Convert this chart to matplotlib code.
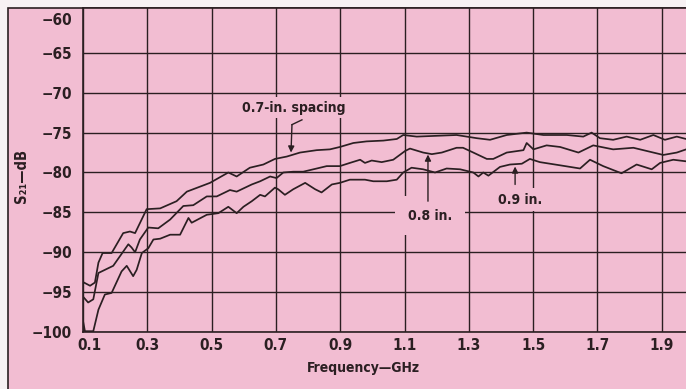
import matplotlib
matplotlib.use('Agg')
import matplotlib.pyplot as plt
import matplotlib.transforms as mtransforms
from matplotlib.patches import Rectangle
from matplotlib import font_manager

# S21 vs frequency for three trace spacings
freq_07 = [0.103, 0.122, 0.137, 0.148, 0.161, 0.189, 0.225, 0.246, 0.262, 0.298,
           0.340, 0.391, 0.423, 0.495, 0.552, 0.578, 0.619, 0.661, 0.697, 0.734,
           0.775, 0.827, 0.868, 0.899, 0.941, 0.982, 1.034, 1.076, 1.096, 1.138,
           1.200, 1.262, 1.325, 1.366, 1.418, 1.480, 1.532, 1.605, 1.656, 1.682,
           1.708, 1.749, 1.791, 1.833, 1.874, 1.910, 1.947, 1.976]
s21_07 = [-93.8, -94.2, -93.8, -91.3, -90.1, -90.1, -87.6, -87.4, -87.6, -84.6,
          -84.5, -83.6, -82.4, -81.3, -80.0, -80.5, -79.4, -79.0, -78.3, -78.0,
          -77.5, -77.2, -77.1, -76.8, -76.3, -76.1, -76.0, -75.8, -75.3, -75.5,
          -75.4, -75.3, -75.7, -75.9, -75.3, -75.0, -75.3, -75.3, -75.5, -75.0,
          -75.7, -75.9, -75.5, -75.9, -75.3, -75.9, -75.5, -75.8]

freq_08 = [0.103, 0.116, 0.132, 0.148, 0.194, 0.241, 0.251, 0.262, 0.277, 0.303,
           0.334, 0.371, 0.412, 0.443, 0.485, 0.516, 0.557, 0.578, 0.625, 0.651,
           0.682, 0.702, 0.723, 0.754, 0.785, 0.827, 0.858, 0.899, 0.930, 0.962,
           0.977, 0.998, 1.029, 1.065, 1.102, 1.117, 1.158, 1.185, 1.216, 1.262,
           1.282, 1.314, 1.356, 1.376, 1.418, 1.470, 1.480, 1.501, 1.542, 1.584,
           1.641, 1.687, 1.749, 1.812, 1.874, 1.905, 1.947, 1.976]
s21_08 = [-95.7, -96.3, -95.9, -92.6, -91.7, -89.0, -89.4, -90.0, -88.4, -86.9,
          -87.0, -85.9, -84.2, -84.1, -83.0, -83.0, -82.2, -82.4, -81.5, -81.1,
          -80.5, -80.7, -80.0, -79.9, -79.9, -79.5, -79.2, -79.2, -78.8, -78.4,
          -78.8, -78.5, -78.7, -78.4, -77.3, -77.0, -77.5, -77.7, -77.5, -76.9,
          -76.9, -77.5, -78.3, -78.3, -77.5, -77.2, -76.3, -77.1, -76.6, -76.8,
          -77.5, -76.6, -77.1, -76.9, -77.5, -77.8, -77.5, -77.1]

freq_09 = [0.100, 0.106, 0.132, 0.148, 0.168, 0.189, 0.220, 0.236, 0.256, 0.267,
           0.283, 0.303, 0.319, 0.340, 0.371, 0.402, 0.428, 0.438, 0.485, 0.521,
           0.552, 0.578, 0.599, 0.625, 0.651, 0.666, 0.697, 0.707, 0.728, 0.754,
           0.791, 0.822, 0.842, 0.874, 0.899, 0.930, 0.977, 1.003, 1.045, 1.076,
           1.096, 1.122, 1.158, 1.195, 1.231, 1.273, 1.314, 1.330, 1.345, 1.361,
           1.397, 1.428, 1.465, 1.490, 1.521, 1.584, 1.646, 1.677, 1.718, 1.775,
           1.822, 1.869, 1.895, 1.936, 1.976]
s21_09 = [-98.6, -99.9, -99.9, -97.2, -95.3, -95.1, -92.4, -91.7, -93.0, -92.2,
          -90.1, -89.5, -88.4, -88.3, -87.8, -87.8, -85.7, -86.3, -85.3, -85.1,
          -84.3, -85.1, -84.3, -83.6, -82.8, -83.0, -81.9, -82.1, -82.8, -82.1,
          -81.3, -82.1, -82.5, -81.5, -81.3, -80.9, -80.9, -81.1, -81.1, -80.9,
          -80.0, -79.4, -79.6, -80.0, -79.5, -79.6, -80.0, -80.5, -80.0, -80.4,
          -79.3, -79.0, -78.9, -78.3, -78.7, -79.1, -79.5, -78.4, -79.2, -80.1,
          -79.0, -79.6, -78.8, -78.4, -78.6]

x_ticks = [0.1, 0.3, 0.5, 0.7, 0.9, 1.1, 1.3, 1.5, 1.7, 1.9]
y_ticks = [-100, -95, -90, -85, -80, -75, -70, -65, -60]

pink = '#f2bdd2'
ink = '#2b1f22'

# condensed bold face if one is installed
names = set(f.name for f in font_manager.fontManager.ttflist)
if 'Liberation Sans Narrow' in names:
    fonts = ['Liberation Sans Narrow', 'DejaVu Sans']
    stretch = 'normal'
else:
    fonts = ['DejaVu Sans']
    stretch = 'condensed'

plt.rcParams['font.family'] = fonts
plt.rcParams['font.weight'] = 'bold'
plt.rcParams['font.stretch'] = stretch

fig = plt.figure(figsize=(6.86, 3.89), dpi=100)
fig.patch.set_facecolor('#f7f1f3')
# outer panel frame
fig.patches.append(Rectangle((8 / 686, -0.05), 1.1, 1.05 - 8 / 389,
                             transform=fig.transFigure, facecolor=pink,
                             edgecolor=ink, lw=1.2, zorder=-5))

ax = fig.add_axes([83 / 686, 57 / 389, 603 / 686, 324 / 389])
ax.set_zorder(2)
ax.set_facecolor(pink)
ax.set_xlim(0.1, 0.1 + 603 / 321.5)
ax.set_ylim(-100, -59.375)

ax.set_xticks(x_ticks)
ax.set_xticklabels(['%.1f' % v for v in x_ticks])
ax.set_yticks(y_ticks)
ax.set_yticklabels(['\u2212%d' % abs(v) for v in y_ticks])
ax.tick_params(length=0, labelsize=11, colors=ink)
ax.tick_params(axis='y', pad=8)
ax.tick_params(axis='x', pad=4)
ax.grid(True, color=ink, lw=1.0)
ax.set_axisbelow(True)
ax.get_ygridlines()[-1].set_visible(False)
for side in ['left', 'bottom', 'top']:
    ax.spines[side].set_color(ink)
    ax.spines[side].set_linewidth(1.2)
ax.spines['right'].set_visible(False)

# nudge the edge labels inward like the original
lbl = ax.get_xticklabels()[0]
lbl.set_transform(lbl.get_transform() + mtransforms.ScaledTranslation(6 / 100, 0, fig.dpi_scale_trans))
lbl = ax.get_yticklabels()[-1]
lbl.set_transform(lbl.get_transform() + mtransforms.ScaledTranslation(0, -6 / 100, fig.dpi_scale_trans))

for f, s in [(freq_07, s21_07), (freq_08, s21_08), (freq_09, s21_09)]:
    ax.plot(f, s, color=ink, lw=1.25, zorder=3)

ax.set_xlabel('Frequency\u2014GHz', fontsize=10, color=ink, fontweight='bold')
ax.xaxis.set_label_coords(0.465, -0.09)
ax.set_ylabel('S\u2082\u2081\u2014dB', fontsize=10.5, color=ink, fontweight='bold')
ax.yaxis.set_label_coords(-0.09, 0.48)

arrow = dict(arrowstyle='-|>', color=ink, lw=1.0, mutation_scale=9, shrinkA=0, shrinkB=0)

# 0.7-in. spacing label with bent leader
ax.text(0.595, -71.9, '0.7-in. spacing', fontsize=10, color=ink, va='center', ha='left',
        bbox=dict(boxstyle='square,pad=0.25', fc=pink, ec='none'), zorder=4)
ax.plot([0.781, 0.750], [-73.4, -74.0], color=ink, lw=1.0, zorder=4)
ax.annotate('', xy=(0.747, -77.5), xytext=(0.750, -74.0), arrowprops=arrow, zorder=4)

ax.text(1.179, -85.4, '0.8 in.', fontsize=10, color=ink, va='center', ha='center',
        bbox=dict(boxstyle='square,pad=0.9', fc=pink, ec='none'), zorder=4)
ax.annotate('', xy=(1.173, -77.75), xytext=(1.173, -83.6), arrowprops=arrow, zorder=4)

ax.text(1.459, -83.4, '0.9 in.', fontsize=10, color=ink, va='center', ha='center',
        bbox=dict(boxstyle='square,pad=0.3', fc=pink, ec='none'), zorder=4)
ax.annotate('', xy=(1.444, -79.25), xytext=(1.444, -81.5), arrowprops=arrow, zorder=4)

fig.savefig('out.png', dpi=100, facecolor=fig.get_facecolor())
